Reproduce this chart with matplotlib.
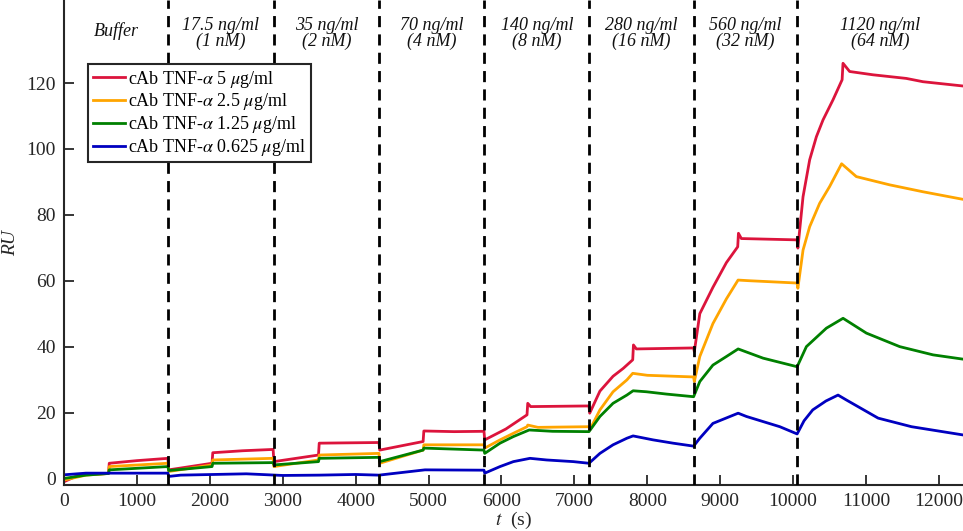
import numpy as np
import matplotlib
matplotlib.use("Agg")
import matplotlib.pyplot as plt

plt.rcParams['font.family'] = ['Liberation Serif', 'DejaVu Serif']
plt.rcParams['mathtext.fontset'] = 'stix'

# injection boundaries (s) and the concentration labels of each window
t_inject = [1430, 2873, 4325, 5765, 7205, 8640, 10060]
conc_top = ['', '17.5 ng/ml', '35 ng/ml', '70 ng/ml', '140 ng/ml',
            '280 ng/ml', '560 ng/ml', '1120 ng/ml']
conc_bot = ['Buffer', '(1 nM)', '(2 nM)', '(4 nM)', '(8 nM)',
            '(16 nM)', '(32 nM)', '(64 nM)']

# sensorgrams, cAb TNF-alpha 5 ug/ml
t_5 = [0, 150, 300, 610, 620, 1000, 1425, 1435, 2030, 2040, 2450, 2868, 2878,
       3490, 3500, 3900, 4320, 4330, 4925, 4935, 5350, 5760, 5770, 6060, 6350,
       6360, 6400, 7200, 7210, 7350, 7530, 7670, 7800, 7810, 7850, 8635, 8645,
       8720, 8900, 9085, 9240, 9250, 9290, 10055, 10065, 10136, 10227, 10319,
       10410, 10547, 10672, 10684, 10775, 11095, 11552, 11781, 12330]
ru_5 = [-1.0, 0.5, 1.2, 1.5, 4.6, 5.4, 6.1, 2.6, 4.6, 7.8, 8.4, 8.8, 5.1,
        7.1, 10.7, 10.8, 10.9, 8.6, 11.2, 14.4, 14.2, 14.3, 11.7, 15.0, 19.3,
        22.8, 21.8, 22.0, 19.8, 26.5, 31.0, 33.4, 36.0, 40.5, 39.3, 39.6, 38.5,
        50.0, 58.0, 65.5, 70.3, 74.4, 72.8, 72.4, 69.9, 85.5, 96.7, 103.7,
        108.8, 114.9, 121.0, 126.0, 123.5, 122.5, 121.4, 120.4, 119.1]

# 2.5 ug/ml
t_25 = [0, 300, 610, 620, 1425, 1435, 2030, 2040, 2868, 2878, 3490, 3500,
        4320, 4330, 4925, 4935, 5760, 5770, 5980, 6163, 6350, 6360, 6500,
        7200, 7210, 7350, 7530, 7720, 7800, 8000, 8635, 8645, 8720, 8900,
        9085, 9245, 9400, 10055, 10065, 10136, 10227, 10364, 10501, 10665,
        10867, 11324, 11781, 12330]
ru_25 = [-0.5, 1.0, 1.5, 3.6, 4.6, 2.1, 4.1, 5.6, 6.1, 3.6, 5.6, 7.1,
         7.6, 4.6, 8.6, 10.2, 10.2, 9.2, 11.7, 13.7, 15.7, 16.2, 15.5,
         15.7, 14.7, 20.8, 26.3, 29.9, 31.9, 31.3, 30.8, 29.4, 37.0, 47.0,
         54.5, 60.2, 60.0, 59.3, 57.7, 69.3, 76.4, 83.5, 88.6, 95.5,
         91.6, 89.1, 87.0, 84.7]

# 1.25 ug/ml
t_125 = [0, 300, 610, 620, 1425, 1435, 2030, 2040, 2868, 2878, 3490, 3500,
         4320, 4330, 4925, 4935, 5760, 5770, 5980, 6163, 6380, 6700, 7200,
         7350, 7530, 7720, 7805, 7988, 8262, 8635, 8720, 8900, 9085, 9246,
         9588, 10055, 10182, 10456, 10685, 11005, 11462, 11919, 12330]
ru_125 = [0.0, 1.0, 1.5, 2.6, 3.6, 2.4, 3.6, 4.6, 4.8, 4.1, 5.1, 6.1,
          6.4, 5.1, 8.6, 9.2, 8.6, 7.6, 10.7, 12.7, 14.7, 14.3, 14.2,
          18.8, 22.8, 25.3, 26.6, 26.3, 25.6, 24.8, 29.4, 34.4, 37.0, 39.3,
          36.5, 33.9, 40.0, 45.6, 48.6, 44.1, 40.0, 37.5, 36.2]

# 0.625 ug/ml
t_0625 = [0, 300, 1425, 1435, 1600, 2500, 3000, 3500, 4000, 4320, 4950, 5760,
          5770, 5980, 6163, 6391, 6620, 6985, 7200, 7350, 7530, 7720, 7805,
          8079, 8353, 8635, 8720, 8900, 9246, 9360, 9817, 10055, 10150, 10269,
          10450, 10616, 10731, 11166, 11623, 12330]
ru_0625 = [1.1, 1.6, 1.6, 0.6, 1.0, 1.4, 0.9, 1.0, 1.2, 1.0, 2.6, 2.5,
           1.6, 3.6, 5.1, 6.1, 5.6, 5.1, 4.6, 7.6, 10.2, 12.2, 12.9,
           11.7, 10.7, 9.8, 12.2, 16.7, 19.8, 18.8, 15.7, 13.5, 17.5, 20.8,
           23.5, 25.3, 23.8, 18.3, 15.7, 13.2]

labels = [r'cAb TNF-$\alpha$ 5 $\mu$g/ml', r'cAb TNF-$\alpha$ 2.5 $\mu$g/ml',
          r'cAb TNF-$\alpha$ 1.25 $\mu$g/ml', r'cAb TNF-$\alpha$ 0.625 $\mu$g/ml']
colors = ['#dc143c', '#ffa500', '#008000', '#0000c0']

t_max = 12330

fig = plt.figure(figsize=(9.63, 5.31), dpi=100)
ax = fig.add_axes([0.0665, 0.0866, 0.9335, 0.9134])

series = [(t_5, ru_5), (t_25, ru_25), (t_125, ru_125), (t_0625, ru_0625)]
for (t, ru), c, lab in zip(series, colors, labels):
    ax.plot(t, ru, color=c, lw=2.0, label=lab)

for tx in t_inject:
    ax.axvline(tx, color='k', lw=2, dashes=(4, 2.6), zorder=5)

# labels of the windows, centred between boundaries
edges = [0] + t_inject + [t_max]
for i in range(len(edges) - 1):
    xm = 0.5 * (edges[i] + edges[i + 1])
    if conc_top[i]:
        ax.text(xm, 137.5, conc_top[i], ha='center', va='center',
                style='italic', fontsize=13, color='#111111')
        ax.text(xm, 132.6, conc_bot[i], ha='center', va='center',
                style='italic', fontsize=13, color='#111111')
    else:
        ax.text(xm, 135.8, conc_bot[i], ha='center', va='center',
                style='italic', fontsize=13, color='#111111')

ax.set_xlim(0, t_max)
ax.set_ylim(-2, 145.2)
ax.set_xticks(np.arange(0, 12001, 1000))
ax.set_yticks(np.arange(0, 121, 20))
ax.tick_params(direction='in', length=7, width=1.3, labelsize=14,
               colors='#262626', pad=6)
for s in ['top', 'right']:
    ax.spines[s].set_visible(False)
for s in ['left', 'bottom']:
    ax.spines[s].set_linewidth(1.5)
    ax.spines[s].set_color('#262626')

ax.set_xlabel(r'$t$  (s)', fontsize=14, color='#262626', labelpad=0)
ax.set_ylabel('RU', fontsize=14, style='italic', color='#262626')
ax.yaxis.set_label_coords(-0.05, 0.5)

leg = ax.legend(loc='upper left', bbox_to_anchor=(0.027, 0.868),
                borderaxespad=0, fancybox=False, edgecolor='#262626',
                framealpha=1, fontsize=13, handlelength=1.8,
                handletextpad=0.15, labelspacing=0.1, borderpad=0.25)
leg.get_frame().set_linewidth(1.5)

plt.savefig('out.png', dpi=100)
